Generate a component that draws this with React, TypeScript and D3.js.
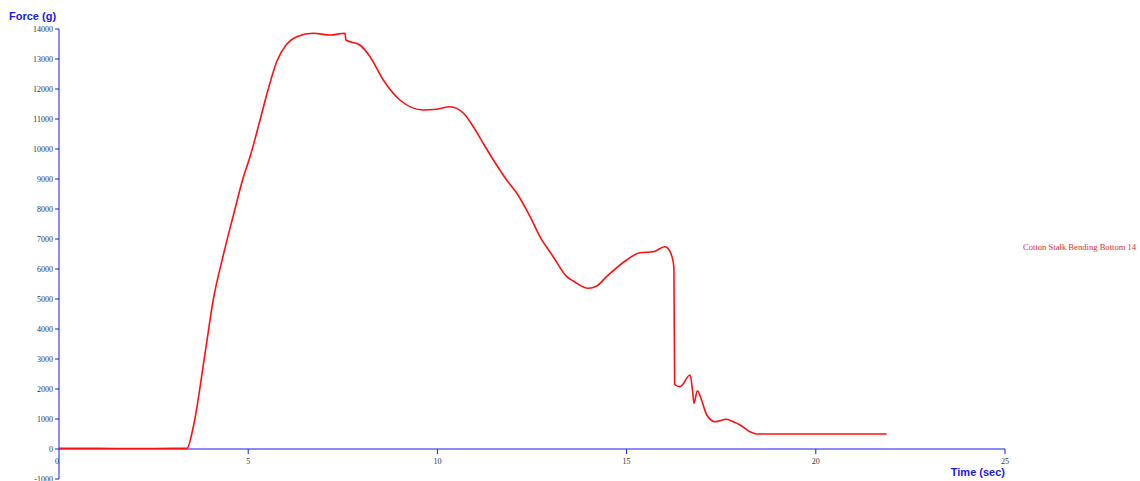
import { useEffect, useRef } from 'react';
import * as d3 from 'd3';

// Force curve (time in sec, force in g)
const TIMES = [
  0, 1, 2, 3, 3.38, 3.55, 3.86, 4.08, 4.34, 4.61, 4.87, 5.05, 5.31, 5.53, 5.75, 6.02,
  6.28, 6.72, 7.16, 7.56, 7.58, 7.95, 8.22, 8.57, 9.01, 9.63, 9.98, 10.33, 10.69, 10.95,
  11.21, 11.48, 11.83, 12.1, 12.45, 12.71, 13.06, 13.42, 13.59, 13.99, 14.21, 14.47,
  15.0, 15.35, 15.71, 16.01, 16.15, 16.25, 16.27, 16.41, 16.68, 16.74, 16.78, 16.87,
  16.98, 17.12, 17.34, 17.64, 17.82, 18.0, 18.26, 18.44, 19.5, 20.5, 21.87,
];
const FORCES = [
  20, 20, 15, 20, 20, 743, 3190, 5000, 6450, 7800, 9050, 9750, 10950, 12000, 12900, 13500,
  13743, 13857, 13800, 13857, 13633, 13467, 13077, 12300, 11633, 11300, 11323, 11410, 11190, 10743,
  10190, 9633, 8967, 8523, 7743, 7077, 6410, 5743, 5600, 5357, 5433, 5743,
  6300, 6543, 6577, 6743, 6577, 6077, 2150, 2077, 2467, 1967, 1523, 1943,
  1633, 1133, 910, 990, 910, 800, 577, 500, 500, 500, 500,
];
const X_TICKS = [0, 5, 10, 15, 20, 25];
const Y_TICKS = d3.range(-1000, 15000, 1000);
const SERIES_NAME = 'Cotton Stalk Bending Bottom 14';

const W = 1140;
const H = 481;

export default function App() {
  const svgRef = useRef<SVGSVGElement>(null);

  useEffect(() => {
    const svg = d3.select(svgRef.current);
    svg.selectAll('*').remove();

    const x = d3.scaleLinear().domain([0, 25]).range([59, 1005]);
    const y = d3.scaleLinear().domain([-1000, 14000]).range([479, 29]);
    const blue = '#1a1ae6';

    // y axis
    const yAxis = svg.append('g').attr('transform', `translate(${x(0)},0)`);
    yAxis.append('line').attr('y1', y(14000)).attr('y2', y(-1000)).attr('stroke', blue);
    Y_TICKS.forEach((v) => {
      yAxis.append('line').attr('x1', -4).attr('x2', 0).attr('y1', y(v)).attr('y2', y(v)).attr('stroke', blue);
      yAxis.append('text')
        .attr('x', -6).attr('y', y(v) + 3)
        .attr('text-anchor', 'end')
        .attr('font-family', '"Liberation Serif", serif')
        .attr('font-size', 8).attr('fill', '#333')
        .text(String(v));
    });

    // x axis sits on force = 0
    const xAxis = svg.append('g').attr('transform', `translate(0,${y(0)})`);
    xAxis.append('line').attr('x1', x(0)).attr('x2', x(25)).attr('stroke', blue);
    X_TICKS.forEach((v) => {
      if (v > 0) {
        xAxis.append('line').attr('x1', x(v)).attr('x2', x(v)).attr('y1', 0).attr('y2', 5).attr('stroke', blue);
      }
      xAxis.append('text')
        .attr('x', v === 0 ? x(v) - 2 : x(v)).attr('y', 15)
        .attr('text-anchor', 'middle')
        .attr('font-family', '"Liberation Serif", serif')
        .attr('font-size', 8).attr('fill', '#333')
        .text(String(v));
    });

    // axis titles
    svg.append('text').attr('x', 9).attr('y', 20)
      .attr('font-family', '"Liberation Sans", Arial, sans-serif')
      .attr('font-weight', 'bold').attr('font-size', 11).attr('fill', blue)
      .text('Force (g)');
    svg.append('text').attr('x', 1005).attr('y', 476)
      .attr('text-anchor', 'end')
      .attr('font-family', '"Liberation Sans", Arial, sans-serif')
      .attr('font-weight', 'bold').attr('font-size', 11).attr('fill', blue)
      .text('Time (sec)');

    // force curve
    const pts: [number, number][] = TIMES.map((t, i) => [t, FORCES[i]]);
    const line = d3.line<[number, number]>()
      .x((d) => x(d[0]))
      .y((d) => y(d[1]))
      .curve(d3.curveMonotoneX);
    svg.append('path')
      .datum(pts)
      .attr('d', line)
      .attr('fill', 'none')
      .attr('stroke', '#ff1010')
      .attr('stroke-width', 1.6)
      .attr('stroke-linejoin', 'round');

    // series label
    svg.append('text').attr('x', 1023).attr('y', 250)
      .attr('font-family', '"Liberation Serif", serif')
      .attr('font-size', 8.6).attr('fill', '#e03030')
      .text(SERIES_NAME);
  }, []);

  return (
    <svg
      ref={svgRef}
      width={W}
      height={H}
      style={{ position: 'absolute', left: 0, top: 0, background: '#fff' }}
    />
  );
}
